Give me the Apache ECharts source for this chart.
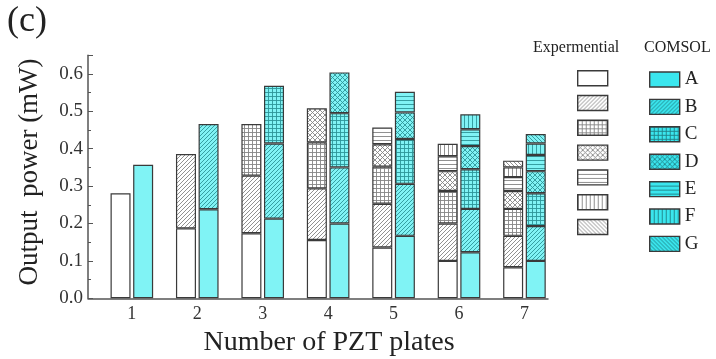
<!DOCTYPE html>
<html>
<head>
<meta charset="utf-8">
<script src="https://cdn.jsdelivr.net/npm/echarts@6/dist/echarts.min.js"></script>
<style>
  html, body { margin: 0; padding: 0; background: #ffffff; }
  #chart { width: 716px; height: 359px; }
</style>
</head>
<body>
<div id="chart"></div>
<script>
// Number of PZT plates on the x axis
const plateCounts = [1, 2, 3, 4, 5, 6, 7];
const plates = ['A', 'B', 'C', 'D', 'E', 'F', 'G'];

// Experimental power contributed by each plate (mW)
const expA = [0.281, 0.187, 0.174, 0.156, 0.136, 0.100, 0.083];
const expB = [null, 0.199, 0.154, 0.138, 0.117, 0.100, 0.084];
const expC = [null, null, 0.138, 0.123, 0.099, 0.087, 0.072];
const expD = [null, null, null, 0.091, 0.060, 0.053, 0.048];
const expE = [null, null, null, null, 0.045, 0.040, 0.037];
const expF = [null, null, null, null, null, 0.033, 0.026];
const expG = [null, null, null, null, null, null, 0.018];

// COMSOL power contributed by each plate (mW)
const simA = [0.357, 0.238, 0.213, 0.200, 0.167, 0.123, 0.100];
const simB = [null, 0.228, 0.201, 0.150, 0.139, 0.116, 0.093];
const simC = [null, null, 0.154, 0.145, 0.120, 0.106, 0.088];
const simD = [null, null, null, 0.109, 0.071, 0.062, 0.059];
const simE = [null, null, null, null, 0.055, 0.045, 0.043];
const simF = [null, null, null, null, null, 0.040, 0.031];
const simG = [null, null, null, null, null, null, 0.025];

const expSets = [expA, expB, expC, expD, expE, expF, expG];
const simSets = [simA, simB, simC, simD, simE, simF, simG];

// Fill style of each plate: solid, /, grid, x, horizontal, vertical, \
const fills = ['solid', 'diag', 'grid', 'cross', 'hline', 'vline', 'bdiag'];

const SERIF = '"Liberation Serif", "Times New Roman", serif';
const INK = '#222222';
const EXP_BG = '#ffffff', EXP_LINE = '#858585';
const SIM_BG = '#80f3f5', SIM_LINE = '#2d9599';
const SIM_KEY_BG = '#3ae6ee', SIM_KEY_LINE = '#1f7f84';
const EDGE = '#3a3a3a';

// Build a repeating hatch tile on a small canvas
function hatch(bg, ink, kind) {
  if (kind === 'solid') return bg;
  const sizes = { diag: 4, bdiag: 4, grid: 4, cross: 5, hline: 4, vline: 4 };
  const s = sizes[kind];
  const c = document.createElement('canvas');
  c.width = s; c.height = s;
  const g = c.getContext('2d');
  g.fillStyle = bg;
  g.fillRect(0, 0, s, s);
  g.strokeStyle = ink;
  g.lineWidth = 0.9;
  g.beginPath();
  const fwd = () => {
    g.moveTo(-1, s + 1); g.lineTo(s + 1, -1);
    g.moveTo(-1, 1); g.lineTo(1, -1);
    g.moveTo(s - 1, s + 1); g.lineTo(s + 1, s - 1);
  };
  const back = () => {
    g.moveTo(-1, -1); g.lineTo(s + 1, s + 1);
    g.moveTo(s - 1, -1); g.lineTo(s + 1, 1);
    g.moveTo(-1, s - 1); g.lineTo(1, s + 1);
  };
  if (kind === 'diag') fwd();
  if (kind === 'bdiag') back();
  if (kind === 'cross') { fwd(); back(); }
  if (kind === 'grid' || kind === 'hline') { g.moveTo(0, 0.5); g.lineTo(s, 0.5); }
  if (kind === 'grid' || kind === 'vline') { g.moveTo(0.5, 0); g.lineTo(0.5, s); }
  g.stroke();
  return { image: c, repeat: 'repeat' };
}

// Rows are [power, plate count]; the power column comes first so it is the stacked one
function toRows(values) {
  return values.map((v, i) => [v == null ? '-' : v, plateCounts[i]]);
}

const series = [];
function addStack(stackName, sets, prefix) {
  plates.forEach((p, i) => {
    series.push({
      name: prefix + p,
      type: 'bar',
      stack: stackName,
      barWidth: 20,
      barGap: '13%',
      encode: { x: 1, y: 0 },
      data: toRows(sets[i]),
      itemStyle: {
        color: stackName === 'exp' ? hatch(EXP_BG, EXP_LINE, fills[i]) : hatch(SIM_BG, SIM_LINE, fills[i]),
        borderColor: EDGE,
        borderWidth: 1.2
      },
      emphasis: { disabled: true }
    });
  });
}
addStack('exp', expSets, 'Exp ');
addStack('sim', simSets, '');

const chart = echarts.init(document.getElementById('chart'), null, { renderer: 'canvas' });
chart.setOption({
  animation: false,
  backgroundColor: '#ffffff',
  grid: { left: 88, right: 168, top: 55.2, bottom: 60.7 },
  xAxis: {
    type: 'value',
    min: 0.33,
    max: 7.36,
    axisLine: { show: true, onZero: false, lineStyle: { color: '#555555', width: 1.5 } },
    axisTick: { show: false },
    splitLine: { show: false },
    axisLabel: {
      customValues: plateCounts,
      formatter: v => String(Math.round(v)),
      fontFamily: SERIF, fontSize: 18, color: '#333333', margin: 7
    }
  },
  yAxis: {
    type: 'value',
    min: 0,
    max: 0.65,
    interval: 0.1,
    axisLine: { show: true, lineStyle: { color: '#555555', width: 1.5 } },
    axisTick: { show: true, inside: true, length: 5, lineStyle: { color: '#555555', width: 1 } },
    minorTick: { show: true, splitNumber: 2, length: 3, lineStyle: { color: '#555555', width: 1 } },
    splitLine: { show: false },
    axisLabel: {
      formatter: v => v.toFixed(1),
      showMaxLabel: false,
      fontFamily: SERIF, fontSize: 19, color: '#333333', margin: 5
    }
  },
  legend: [
    {
      orient: 'vertical',
      left: 577, top: 70,
      padding: 0,
      itemWidth: 30, itemHeight: 15, itemGap: 8.4,
      selectedMode: false,
      formatter: () => '',
      textStyle: { fontSize: 1, lineHeight: 15 },
      data: plates.map((p, i) => ({
        name: 'Exp ' + p,
        icon: 'rect',
        itemStyle: { color: hatch(EXP_BG, EXP_LINE, fills[i]), borderColor: EDGE, borderWidth: 1.4 }
      }))
    },
    {
      orient: 'vertical',
      left: 649, top: 70,
      padding: 0,
      itemWidth: 30, itemHeight: 15, itemGap: 8.4,
      selectedMode: false,
      textStyle: { fontFamily: SERIF, fontSize: 19, color: INK, lineHeight: 15 },
      data: plates.map((p, i) => ({
        name: p,
        icon: 'rect',
        itemStyle: { color: hatch(SIM_KEY_BG, SIM_KEY_LINE, fills[i]), borderColor: EDGE, borderWidth: 1.4 }
      }))
    }
  ],
  graphic: [
    { type: 'text', left: 7, top: 4, style: { text: '(c)', font: '36px ' + SERIF, fill: INK } },
    { type: 'text', left: 533, top: 40, style: { text: 'Expermential', font: '16px ' + SERIF, fill: INK } },
    { type: 'text', left: 644, top: 40, style: { text: 'COMSOL', font: '16px ' + SERIF, fill: INK } },
    {
      type: 'text', x: 30, y: 172, rotation: Math.PI / 2,
      style: { text: 'Output  power (mW)', font: '27px ' + SERIF, fill: INK, align: 'center', verticalAlign: 'middle' }
    },
    {
      type: 'text', x: 329, y: 343,
      style: { text: 'Number of PZT plates', font: '28px ' + SERIF, fill: INK, align: 'center', verticalAlign: 'middle' }
    }
  ],
  series: series
});
</script>
</body>
</html>
